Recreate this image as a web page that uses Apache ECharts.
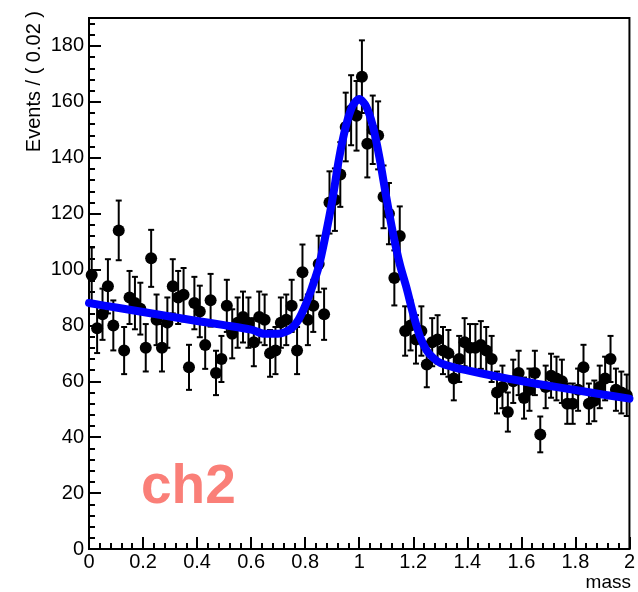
<!DOCTYPE html>
<html>
<head>
<meta charset="utf-8">
<script src="https://cdn.jsdelivr.net/npm/echarts@6/dist/echarts.min.js"></script>
<style>
  html, body { margin: 0; padding: 0; background: #fff; }
  #chart { width: 638px; height: 592px; }
</style>
</head>
<body>
<div id="chart"></div>
<script>
// ---- data ----
const binWidth = 0.02;
const counts = [
  98, 79, 84, 94, 80, 114, 71, 90, 88, 86,
  72, 104, 82, 72, 81, 94, 90, 91, 65, 88,
  85, 73, 89, 63, 68, 87, 77, 81, 83, 81,
  74, 83, 82, 70, 71, 81, 82, 87, 71, 99,
  82, 87, 102, 84, 124, 125, 134, 151, 157, 155,
  169, 145, 150, 148, 126, 120, 97, 112, 78, 80,
  75, 78, 66, 74, 75, 71, 70, 61, 68, 74,
  72, 72, 73, 71, 68, 56, 58, 49, 60, 63,
  54, 57, 63, 41, 58, 62, 61, 60, 52, 52,
  57, 65, 52, 53, 58, 61, 68, 57, 56, 55
];
const fitX = [0, 0.1, 0.2, 0.3, 0.4, 0.5, 0.6, 0.65, 0.7, 0.725, 0.75, 0.775, 0.8, 0.825, 0.85, 0.875, 0.9, 0.925, 0.95, 0.975, 1.0, 1.025, 1.05, 1.075, 1.1, 1.125, 1.15, 1.175, 1.2, 1.225, 1.25, 1.275, 1.3, 1.35, 1.4, 1.5, 1.6, 1.7, 1.8, 1.9, 2.0];
const fitY = [88, 86.4, 84.8, 83.2, 81.6, 80.1, 78.5, 77.0, 77.0, 77.6, 79.0, 82, 87, 93.5, 101, 112, 124.5, 139.5, 151, 158.5, 161, 158.5, 151.5, 140, 126, 113, 102, 93.5, 84, 76, 71, 68.3, 66.6, 65, 63.9, 61.9, 60.1, 58.4, 56.9, 55.3, 53.8];
const xMajor = [0, 0.2, 0.4, 0.6, 0.8, 1, 1.2, 1.4, 1.6, 1.8, 2];
const yMajor = [0, 20, 40, 60, 80, 100, 120, 140, 160, 180];
const yTitle = 'Events / ( 0.02 )';
const xTitle = 'mass';
const tag = 'ch2';

// minor tick positions
const xMinor = [];
for (let k = 0; k <= 50; k++) { if (k % 5 !== 0) xMinor.push(+(k * 0.04).toFixed(2)); }
const yMinor = [];
for (let k = 0; k <= 47; k++) { if (k % 5 !== 0) yMinor.push(k * 4); }

const pts = counts.map((n, i) => {
  const e = Math.sqrt(n);
  return [(i + 0.5) * binWidth, n, n - e, n + e];
});

const FONT = '"Liberation Sans", Arial, Helvetica, sans-serif';
const chart = echarts.init(document.getElementById('chart'), null, { renderer: 'canvas' });

const axisCommon = { type: 'value', splitLine: { show: false } };

chart.setOption({
  animation: false,
  backgroundColor: '#fff',
  grid: { left: 89, right: 6, top: 18, bottom: 43, show: true, borderColor: '#000', borderWidth: 2, backgroundColor: 'transparent' },
  xAxis: [
    Object.assign({}, axisCommon, {
      min: 0, max: 2, position: 'bottom',
      axisLine: { show: true, onZero: false, lineStyle: { color: '#000', width: 2 } },
      axisTick: { show: true, inside: true, length: 12, customValues: xMajor, lineStyle: { color: '#000', width: 2 } },
      axisLabel: { show: true, customValues: xMajor, margin: 3, fontSize: 20, color: '#000', fontFamily: FONT,
        formatter: v => String(+(+v).toFixed(1)) }
    }),
    Object.assign({}, axisCommon, {
      min: 0, max: 2, position: 'bottom',
      axisLine: { show: false },
      axisTick: { show: true, inside: true, length: 6, customValues: xMinor, lineStyle: { color: '#000', width: 2 } },
      axisLabel: { show: false }
    })
  ],
  yAxis: [
    Object.assign({}, axisCommon, {
      min: 0, max: 190, position: 'left',
      axisLine: { show: true, onZero: false, lineStyle: { color: '#000', width: 2 } },
      axisTick: { show: true, inside: true, length: 12, customValues: yMajor, lineStyle: { color: '#000', width: 2 } },
      axisLabel: { show: true, customValues: yMajor, margin: 5, fontSize: 20, color: '#000', fontFamily: FONT }
    }),
    Object.assign({}, axisCommon, {
      min: 0, max: 190, position: 'left',
      axisLine: { show: false },
      axisTick: { show: true, inside: true, length: 6, customValues: yMinor, lineStyle: { color: '#000', width: 2 } },
      axisLabel: { show: false }
    })
  ],
  series: [
    {
      type: 'custom',
      xAxisIndex: 0, yAxisIndex: 0,
      clip: false,
      z: 3,
      data: pts,
      renderItem: function (params, api) {
        const x = api.value(0), y = api.value(1), lo = api.value(2), hi = api.value(3);
        const p = api.coord([x, y]);
        const pl = api.coord([x, lo]);
        const ph = api.coord([x, hi]);
        const cap = 3;
        const st = { stroke: '#000', lineWidth: 2 };
        return {
          type: 'group',
          children: [
            { type: 'line', shape: { x1: p[0], y1: ph[1], x2: p[0], y2: pl[1] }, style: st },
            { type: 'line', shape: { x1: p[0] - cap, y1: ph[1], x2: p[0] + cap, y2: ph[1] }, style: st },
            { type: 'line', shape: { x1: p[0] - cap, y1: pl[1], x2: p[0] + cap, y2: pl[1] }, style: st },
            { type: 'circle', shape: { cx: p[0], cy: p[1], r: 6 }, style: { fill: '#000' } }
          ]
        };
      }
    },
    {
      type: 'line',
      xAxisIndex: 0, yAxisIndex: 0,
      z: 5,
      smooth: 0.3,
      showSymbol: false,
      symbol: 'none',
      lineStyle: { color: '#0000ff', width: 8, cap: 'round', join: 'round' },
      data: fitX.map((x, i) => [x, fitY[i]])
    }
  ],
  graphic: [
    { type: 'text', x: 34, y: 11, rotation: Math.PI / 2,
      style: { text: yTitle, textAlign: 'right', textVerticalAlign: 'middle', fontSize: 20, fontFamily: FONT, fill: '#000' } },
    { type: 'text', x: 631, y: 583,
      style: { text: xTitle, textAlign: 'right', textVerticalAlign: 'middle', fontSize: 19, fontFamily: FONT, fill: '#000' } },
    { type: 'text', x: 141, y: 488,
      style: { text: tag, textAlign: 'left', textVerticalAlign: 'middle', fontSize: 55, fontWeight: 'bold', fontFamily: FONT, fill: '#fa7f78' } }
  ]
});
</script>
</body>
</html>
